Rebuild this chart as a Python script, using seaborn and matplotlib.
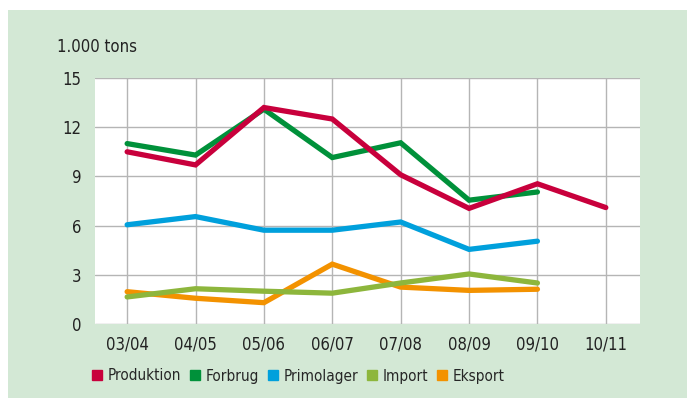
import pandas as pd
import matplotlib.pyplot as plt
import matplotlib.patches as mpatches
from matplotlib.lines import Line2D
import seaborn as sns

periods = ['03/04', '04/05', '05/06', '06/07', '07/08', '08/09', '09/10', '10/11']
produktion = [10.5, 9.7, 13.2, 12.5, 9.1, 7.05, 8.55, 7.1]
forbrug = [11.0, 10.3, 13.1, 10.15, 11.05, 7.55, 8.05]
primolager = [6.05, 6.55, 5.72, 5.72, 6.22, 4.55, 5.05]
import_ = [1.65, 2.15, 2.0, 1.88, 2.5, 3.05, 2.5]
eksport = [1.97, 1.57, 1.3, 3.65, 2.25, 2.05, 2.12]

series_names = ['Produktion', 'Forbrug', 'Primolager', 'Import', 'Eksport']
series_values = [produktion, forbrug, primolager, import_, eksport]
colors = ['#c8003c', '#00913a', '#00a0dc', '#8db63c', '#f39200']

rows = []
for name, vals in zip(series_names, series_values):
    for p, v in zip(periods, vals):
        rows.append({'periode': p, 'serie': name, 'value': v})
df = pd.DataFrame(rows)

sns.set_style('white')
plt.rcParams['font.family'] = ['DejaVu Sans']
plt.rcParams['font.stretch'] = 'condensed'

fig = plt.figure(figsize=(6.87, 4.03), dpi=100)
fig.patch.set_facecolor('white')
bg = mpatches.Rectangle((8 / 687, 1 - 398 / 403), 1, 388 / 403,
                        transform=fig.transFigure, facecolor='#d3e8d5',
                        edgecolor='none', zorder=-10)
fig.add_artist(bg)

ax = fig.add_axes([95 / 687, 1 - 324 / 403, 545 / 687, 246 / 403])
ax.set_zorder(1)
ax.set_facecolor('white')

sns.lineplot(data=df, x='periode', y='value', hue='serie', hue_order=series_names,
             palette=colors, linewidth=3.8, legend=False, ax=ax, sort=False)
for i, line in enumerate(ax.lines):
    line.set_zorder(10 - i)
    line.set_solid_capstyle('round')
    line.set_solid_joinstyle('miter')

ax.set_xlim(-0.47, 7.5)
ax.set_ylim(0, 15)
ax.set_yticks([0, 3, 6, 9, 12, 15])
ax.set_xticks(range(len(periods)))
ax.set_xticklabels(periods)
ax.grid(True, color='#b5b5b5', linewidth=1)
ax.set_axisbelow(True)
for s in ax.spines.values():
    s.set_visible(False)
ax.tick_params(length=0, labelsize=12, colors='#222222')
ax.tick_params(axis='y', pad=10)
ax.tick_params(axis='x', pad=8)
ax.set_xlabel('')
ax.set_ylabel('')

fig.text(57 / 687, 1 - 47 / 403, '1.000 tons', fontsize=12, color='#222222', va='center')

handles = [Line2D([], [], marker='s', linestyle='none', markersize=7.5, color=c) for c in colors]
fig.legend(handles, series_names, loc='center left', bbox_to_anchor=(86 / 687, 1 - 376 / 403),
           ncol=5, frameon=False, fontsize=11, handlelength=0.7, handletextpad=0.3,
           columnspacing=0.6, borderaxespad=0)

fig.savefig('out.png', dpi=100)
